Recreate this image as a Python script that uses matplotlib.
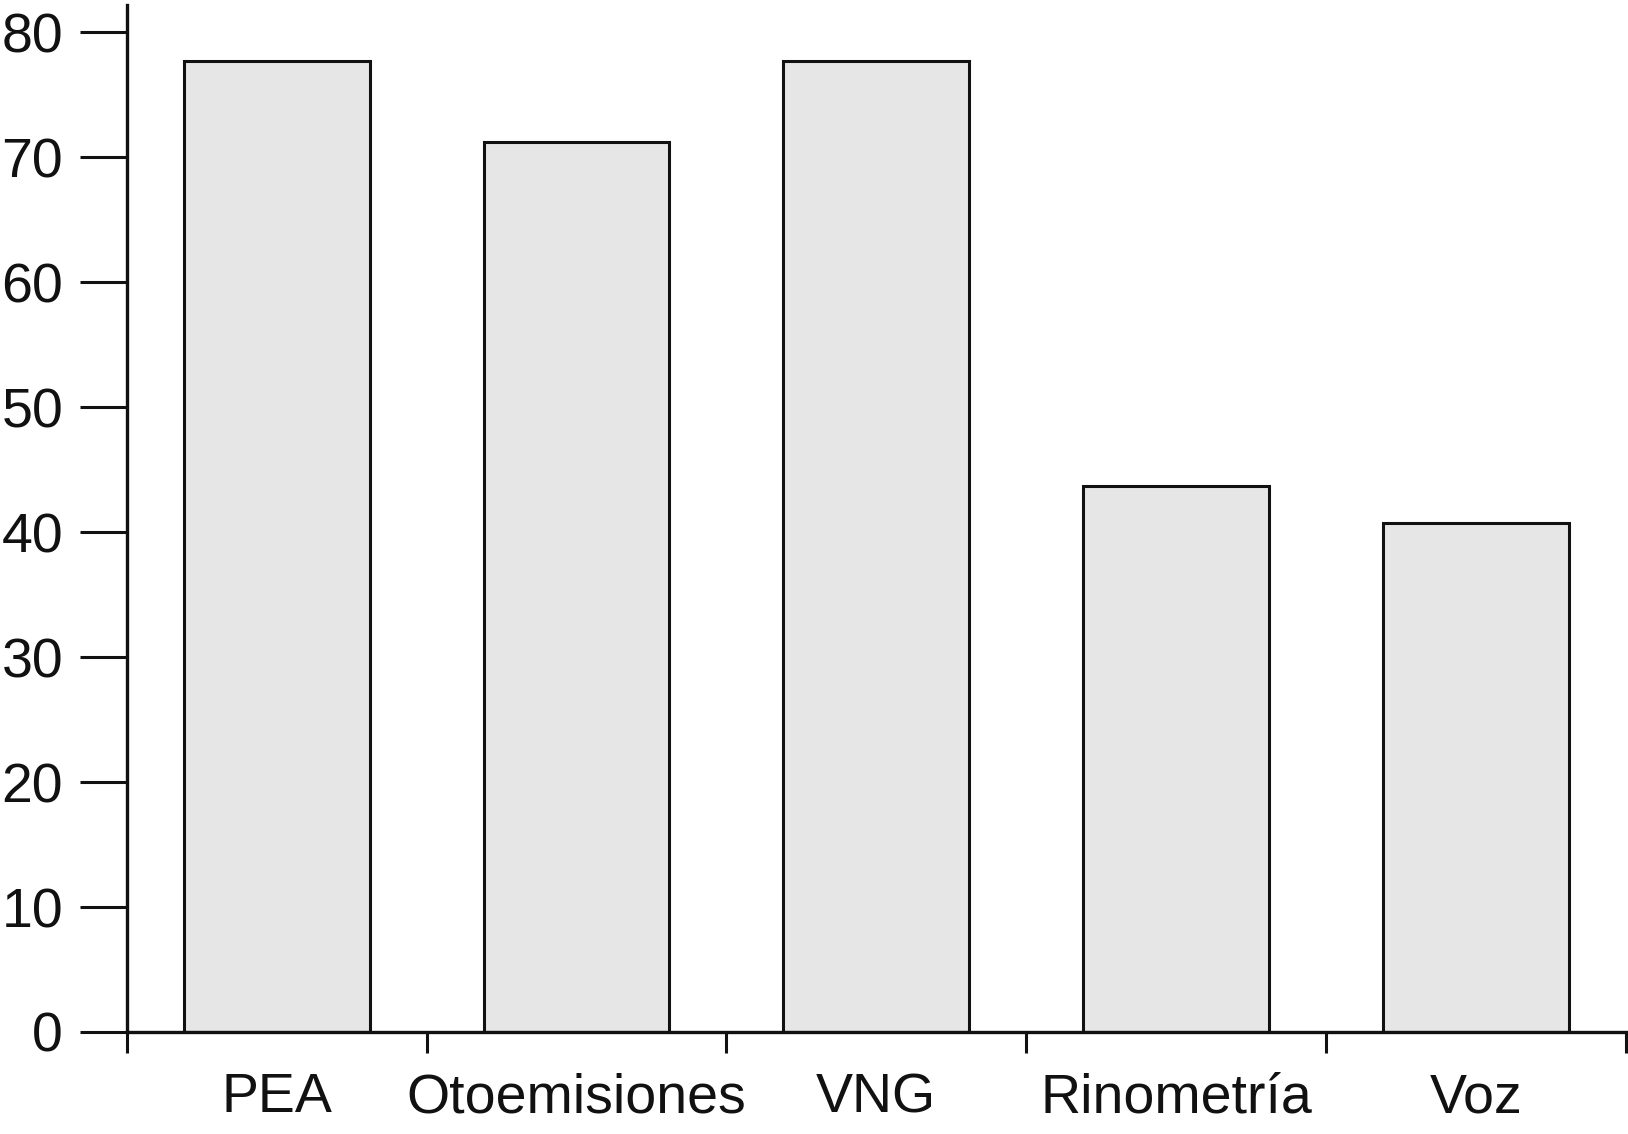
import matplotlib.pyplot as plt
import numpy as np

plt.rcParams['font.family'] = ['Liberation Sans', 'DejaVu Sans']

# Datos
categorias = ["PEA", "Otoemisiones", "VNG", "Rinometría", "Voz"]
valores = [77.7, 71.2, 77.7, 43.7, 40.7]

x = np.arange(len(categorias))

fig = plt.figure(figsize=(16.28, 11.34), dpi=100)
ax = fig.add_axes([0.078, 0.09, 0.9205, 0.9056])

ax.bar(x, valores, width=0.62, color="#e6e6e6", edgecolor="#111111", linewidth=2.2, zorder=2)

ax.set_xlim(-0.5, len(categorias) - 0.5)
ax.set_ylim(0, 82.2)

# Ticks mayores en los bordes, etiquetas en los centros
ax.set_xticks(np.arange(len(categorias) + 1) - 0.5)
ax.set_xticklabels([])
ax.set_xticks(x, minor=True)
ax.set_xticklabels(categorias, minor=True, fontsize=40)
ax.tick_params(axis="x", which="major", direction="out", length=15, width=2.2, color="#111111")
ax.tick_params(axis="x", which="minor", length=0, pad=29, labelcolor="#111111")

ax.set_yticks(range(0, 81, 10))
ax.tick_params(axis="y", direction="out", length=34, width=2.2, pad=12,
               labelsize=40, color="#111111", labelcolor="#111111")

for lado in ["top", "right"]:
    ax.spines[lado].set_visible(False)
for lado in ["left", "bottom"]:
    ax.spines[lado].set_linewidth(2.4)
    ax.spines[lado].set_color("#111111")

fig.savefig("out.png", dpi=100)
